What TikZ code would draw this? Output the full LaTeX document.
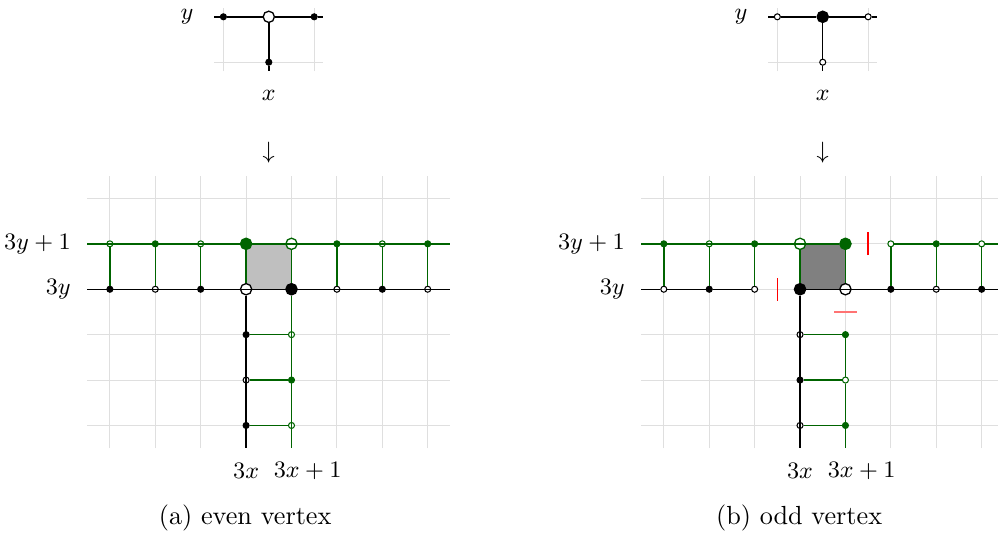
\documentclass[tikz,border=0pt]{standalone}
\usepackage{tikz}
\definecolor{darkgreen}{RGB}{0,100,0}

\begin{document}
\begin{tikzpicture}
 [x=17.33pt, y=17.33pt,
  grid line/.style={gray!25, line width=0.4pt},
  black line/.style={black, line width=0.55pt},
  green line/.style={darkgreen, line width=0.55pt},
  cut line/.style={red, line width=0.6pt},
  small node/.style={circle, inner sep=0pt, minimum size=2.3pt, line width=0.4pt, draw},
  big node/.style={circle, inner sep=0pt, minimum size=4.3pt, line width=0.5pt, draw},
  label text/.style={font=\fontsize{8.7}{10}\selectfont, inner sep=0pt},
  caption text/.style={font=\fontsize{10}{12}\selectfont, inner sep=0pt}]

\useasboundingbox (-5.42,-5.42) rectangle (16.56,6.37);

% ---------------- (a) even vertex ----------------
% small gadget on top
\draw[grid line] (-0.5,4.8) -- (-0.5,6.2) (1.5,4.8) -- (1.5,6.2) (-0.7,5) -- (1.7,5);
\coordinate (atl) at (-0.7,6);
\coordinate (atr) at (1.7,6);
\coordinate (atd) at (0.5,4.8);
\node[small node, fill=black] (atleft) at (-0.5,6) {};
\node[big node, fill=white] (atv) at (0.5,6) {};
\node[small node, fill=black] (atright) at (1.5,6) {};
\node[small node, fill=black] (atdown) at (0.5,5) {};
\draw[black line] (atl) -- (atleft) -- (atv) -- (atright) -- (atr);
\draw[black line] (atv) -- (atdown) -- (atd);
\node[label text] (ay) at (-1.3,6) {$y$};
\node[label text] (ax) at (0.5,4.27) {$x$};
\node[label text] (aarrow) at (0.5,3) {$\downarrow$};

% grid and the square
\foreach \c in {-3,...,4}
  \draw[grid line] (\c,-3.5) -- (\c,2.5);
\foreach \r in {-3,...,2}
  \draw[grid line] (-3.5,\r) -- (4.5,\r);
\fill[gray!50] (0,0) rectangle (1,1);
\coordinate (al0) at (-3.5,0);
\coordinate (ar0) at (4.5,0);
\coordinate (al1) at (-3.5,1);
\coordinate (ar1) at (4.5,1);
\coordinate (ad0) at (0,-3.5);
\coordinate (ad1) at (1,-3.5);

% row 3y
\foreach \i/\f in {1/black,2/white,3/black,6/white,7/black,8/white}
  \node[small node, draw=black, fill=\f] (a3y\i) at (\i-4,0) {};
\node[big node, draw=black, fill=white] (a3y4) at (0,0) {};
\node[big node, draw=black, fill=black] (a3y5) at (1,0) {};
% row 3y+1
\foreach \i/\f in {1/white,2/darkgreen,3/white,6/darkgreen,7/white,8/darkgreen}
  \node[small node, draw=darkgreen, fill=\f] (a3yp\i) at (\i-4,1) {};
\node[big node, draw=darkgreen, fill=darkgreen] (a3yp4) at (0,1) {};
\node[big node, draw=darkgreen, fill=white] (a3yp5) at (1,1) {};
% columns 3x and 3x+1
\foreach \j/\f in {1/black,2/white,3/black}
  \node[small node, draw=black, fill=\f] (a3x\j) at (0,-\j) {};
\foreach \j/\f in {1/white,2/darkgreen,3/white}
  \node[small node, draw=darkgreen, fill=\f] (a3xp\j) at (1,-\j) {};

\draw[black line] (al0) \foreach \i in {1,...,8}{ -- (a3y\i)} -- (ar0);
\draw[green line] (al1) \foreach \i in {1,...,8}{ -- (a3yp\i)} -- (ar1);
\draw[black line] (a3y4) \foreach \j in {1,2,3}{ -- (a3x\j)} -- (ad0);
\draw[green line] (a3yp4) -- (a3y4);
\draw[green line] (a3yp5) -- (a3y5) \foreach \j in {1,2,3}{ -- (a3xp\j)} -- (ad1);
\foreach \i in {1,2,3,6,7,8}
  \draw[green line] (a3y\i) -- (a3yp\i);
\foreach \j in {1,2,3}
  \draw[green line] (a3x\j) -- (a3xp\j);

\node[label text, anchor=east] (a3yplabel) at (-3.85,1) {$3y+1$};
\node[label text, anchor=east] (a3ylabel) at (-3.85,0) {$3y$};
\node[label text] (a3xlabel) at (0,-4) {$3x$};
\node[label text, anchor=west] (a3xplabel) at (0.6,-4) {$3x+1$};
\node[caption text] (acaption) at (-0.02,-5.04) {(a) even vertex};

% ---------------- (b) odd vertex ----------------
\begin{scope}[shift={(12.2,0)}]
% small gadget on top
\draw[grid line] (-0.5,4.8) -- (-0.5,6.2) (1.5,4.8) -- (1.5,6.2) (-0.7,5) -- (1.7,5);
\coordinate (btl) at (-0.7,6);
\coordinate (btr) at (1.7,6);
\coordinate (btd) at (0.5,4.8);
\node[small node, fill=white] (btleft) at (-0.5,6) {};
\node[big node, fill=black] (btv) at (0.5,6) {};
\node[small node, fill=white] (btright) at (1.5,6) {};
\node[small node, fill=white] (btdown) at (0.5,5) {};
\draw[black line] (btl) -- (btleft) -- (btv) -- (btright) -- (btr);
\draw[black line] (btv) -- (btdown) -- (btd);
\node[label text] (by) at (-1.3,6) {$y$};
\node[label text] (bx) at (0.5,4.27) {$x$};
\node[label text] (barrow) at (0.5,3) {$\downarrow$};

% grid and the square
\foreach \c in {-3,...,4}
  \draw[grid line] (\c,-3.5) -- (\c,2.5);
\foreach \r in {-3,...,2}
  \draw[grid line] (-3.5,\r) -- (4.5,\r);
\fill[gray] (0,0) rectangle (1,1);
\coordinate (bl0) at (-3.5,0);
\coordinate (br0) at (4.5,0);
\coordinate (bl1) at (-3.5,1);
\coordinate (br1) at (4.5,1);
\coordinate (bd0) at (0,-3.5);
\coordinate (bd1) at (1,-3.5);

% row 3y
\foreach \i/\f in {1/white,2/black,3/white,6/black,7/white,8/black}
  \node[small node, draw=black, fill=\f] (b3y\i) at (\i-4,0) {};
\node[big node, draw=black, fill=black] (b3y4) at (0,0) {};
\node[big node, draw=black, fill=white] (b3y5) at (1,0) {};
% row 3y+1
\foreach \i/\f in {1/darkgreen,2/white,3/darkgreen,6/white,7/darkgreen,8/white}
  \node[small node, draw=darkgreen, fill=\f] (b3yp\i) at (\i-4,1) {};
\node[big node, draw=darkgreen, fill=white] (b3yp4) at (0,1) {};
\node[big node, draw=darkgreen, fill=darkgreen] (b3yp5) at (1,1) {};
% columns 3x and 3x+1
\foreach \j/\f in {1/white,2/black,3/white}
  \node[small node, draw=black, fill=\f] (b3x\j) at (0,-\j) {};
\foreach \j/\f in {1/darkgreen,2/white,3/darkgreen}
  \node[small node, draw=darkgreen, fill=\f] (b3xp\j) at (1,-\j) {};

\draw[black line] (bl0) -- (b3y1) -- (b3y2) -- (b3y3);
\draw[black line] (b3y4) \foreach \i in {5,...,8}{ -- (b3y\i)} -- (br0);
\draw[green line] (bl1) \foreach \i in {1,...,5}{ -- (b3yp\i)};
\draw[green line] (b3yp6) -- (b3yp7) -- (b3yp8) -- (br1);
\draw[black line] (b3y4) \foreach \j in {1,2,3}{ -- (b3x\j)} -- (bd0);
\draw[green line] (b3yp4) -- (b3y4);
\draw[green line] (b3yp5) -- (b3y5);
\draw[green line] (b3xp1) -- (b3xp2) -- (b3xp3) -- (bd1);
\foreach \i in {1,2,3,6,7,8}
  \draw[green line] (b3y\i) -- (b3yp\i);
\foreach \j in {1,2,3}
  \draw[green line] (b3x\j) -- (b3xp\j);

% removed edges
\draw[cut line] (-0.5,-0.25) -- (-0.5,0.25);
\draw[cut line] (1.5,0.75) -- (1.5,1.25);
\draw[cut line, red!55] (0.75,-0.5) -- (1.25,-0.5);

\node[label text, anchor=east] (b3yplabel) at (-3.85,1) {$3y+1$};
\node[label text, anchor=east] (b3ylabel) at (-3.85,0) {$3y$};
\node[label text] (b3xlabel) at (0,-4) {$3x$};
\node[label text, anchor=west] (b3xplabel) at (0.6,-4) {$3x+1$};
\node[caption text] (bcaption) at (-0.02,-5.04) {(b) odd vertex};
\end{scope}
\end{tikzpicture}
\end{document}
